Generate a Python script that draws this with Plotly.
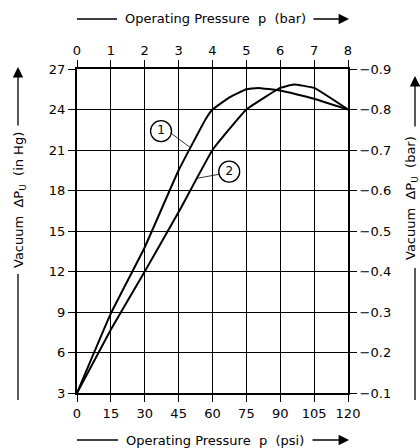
import plotly.graph_objects as go

# Data (x in psi, y in inHg)
psi_1 = [0, 15, 30, 45, 57, 60, 67.5, 75, 80, 90, 105, 120]
vac_1 = [3, 8.9, 13.8, 19.5, 23.3, 24.0, 24.9, 25.5, 25.6, 25.4, 24.8, 24.0]
psi_2 = [0, 15, 30, 45, 60, 75, 90, 96, 105, 120]
vac_2 = [3, 7.7, 12.0, 16.4, 21.0, 24.0, 25.6, 25.85, 25.6, 24.0]

psi_ticks = [0, 15, 30, 45, 60, 75, 90, 105, 120]
bar_ticks = [0, 1, 2, 3, 4, 5, 6, 7, 8]
inhg_ticks = [3, 6, 9, 12, 15, 18, 21, 24, 27]
barvac_ticks = [-0.1, -0.2, -0.3, -0.4, -0.5, -0.6, -0.7, -0.8, -0.9]

# callouts: label, circle position, leader start, leader end (data coords)
callout_labels = ["1", "2"]
callout_pos = [(37.2, 22.4), (67.4, 19.4)]
leader_start = [(41.6, 22.25), (62.9, 19.2)]
leader_end = [(50.0, 21.2), (53.1, 18.9)]

FONT = "DejaVu Sans, Arial, sans-serif"
W, H = 420, 448
L, R, T, B = 77, 72, 69, 55
pw, ph = W - L - R, H - T - B

def px(x):
    return (x - L) / pw

def py(y):
    return (H - B - y) / ph

fig = go.Figure()
for xs, ys in [(psi_1, vac_1), (psi_2, vac_2)]:
    fig.add_trace(go.Scatter(x=xs, y=ys, mode="lines",
                             line=dict(color="black", width=2, shape="spline", smoothing=0.3),
                             showlegend=False, hoverinfo="skip"))
# leader lines
for s, e in zip(leader_start, leader_end):
    fig.add_trace(go.Scatter(x=[s[0], e[0]], y=[s[1], e[1]], mode="lines",
                             line=dict(color="black", width=0.8),
                             showlegend=False, hoverinfo="skip"))
# callout circles
fig.add_trace(go.Scatter(x=[p[0] for p in callout_pos], y=[p[1] for p in callout_pos],
                         mode="markers+text", text=callout_labels,
                         textposition="middle center",
                         textfont=dict(family=FONT, size=12, color="black"),
                         marker=dict(symbol="circle", size=21, color="white",
                                     line=dict(color="black", width=1.3)),
                         showlegend=False, hoverinfo="skip"))
# invisible trace for secondary axes
fig.add_trace(go.Scatter(x=[0, 8], y=[-0.1, -0.9], xaxis="x2", yaxis="y2",
                         mode="markers", marker=dict(opacity=0), showlegend=False,
                         hoverinfo="skip"))

axis_common = dict(gridcolor="black", gridwidth=1.3, zeroline=False,
                   showline=True, linecolor="black", linewidth=2,
                   ticks="outside", ticklen=7, tickwidth=1.3, tickcolor="black",
                   tickfont=dict(family=FONT, size=13, color="black"))

fig.update_layout(
    width=W, height=H,
    margin=dict(l=L, r=R, t=T, b=B, pad=0),
    paper_bgcolor="white", plot_bgcolor="white",
    xaxis=dict(range=[0, 120], tickvals=psi_ticks, showgrid=True, **axis_common),
    yaxis=dict(range=[3, 27], tickvals=inhg_ticks, showgrid=True, **axis_common),
    xaxis2=dict(range=[0, 8], tickvals=bar_ticks, overlaying="x", side="top",
                showgrid=False, **axis_common),
    yaxis2=dict(range=[-0.1, -0.9], tickvals=barvac_ticks, overlaying="y", side="right",
                tickformat=".1f", showgrid=False, **axis_common),
)

tf = dict(family=FONT, size=13, color="black")
ann = []
shapes = []
# top title
ann.append(dict(text="Operating Pressure  p  (bar)", x=px(215), y=py(19), xref="paper", yref="paper",
                showarrow=False, font=tf, xanchor="center", yanchor="middle"))
shapes.append(dict(type="line", xref="paper", yref="paper", x0=px(77), x1=px(117), y0=py(19), y1=py(19),
                   line=dict(color="black", width=1.3)))
ann.append(dict(text="", x=px(349), y=py(19), xref="paper", yref="paper", ax=-37, ay=0,
                showarrow=True, arrowhead=2, arrowsize=1.6, arrowwidth=1.3, arrowcolor="black"))
# bottom title
ann.append(dict(text="Operating Pressure  p  (psi)", x=px(215), y=py(440), xref="paper", yref="paper",
                showarrow=False, font=tf, xanchor="center", yanchor="middle"))
shapes.append(dict(type="line", xref="paper", yref="paper", x0=px(77), x1=px(118), y0=py(440), y1=py(440),
                   line=dict(color="black", width=1.3)))
ann.append(dict(text="", x=px(349), y=py(440), xref="paper", yref="paper", ax=-38, ay=0,
                showarrow=True, arrowhead=2, arrowsize=1.6, arrowwidth=1.3, arrowcolor="black"))
# left title
ann.append(dict(text="Vacuum  ΔP<sub>U</sub>  (in Hg)", x=px(19), y=py(200), xref="paper", yref="paper",
                showarrow=False, font=tf, textangle=-90, xanchor="center", yanchor="middle"))
shapes.append(dict(type="line", xref="paper", yref="paper", x0=px(18), x1=px(18), y0=py(274), y1=py(400),
                   line=dict(color="black", width=1.3)))
ann.append(dict(text="", x=px(18), y=py(67), xref="paper", yref="paper", ax=0, ay=60,
                showarrow=True, arrowhead=2, arrowsize=1.6, arrowwidth=1.3, arrowcolor="black"))
# right title
ann.append(dict(text="Vacuum  ΔP<sub>U</sub>  (bar)", x=px(411), y=py(198), xref="paper", yref="paper",
                showarrow=False, font=tf, textangle=-90, xanchor="center", yanchor="middle"))
shapes.append(dict(type="line", xref="paper", yref="paper", x0=px(415), x1=px(415), y0=py(268), y1=py(400),
                   line=dict(color="black", width=1.3)))
ann.append(dict(text="", x=px(415), y=py(76), xref="paper", yref="paper", ax=0, ay=52,
                showarrow=True, arrowhead=2, arrowsize=1.6, arrowwidth=1.3, arrowcolor="black"))

fig.update_layout(annotations=ann, shapes=shapes)
fig.write_html("out.html", config={"displayModeBar": False},
               post_script="document.body.style.margin='0px';document.body.style.overflow='hidden';")
